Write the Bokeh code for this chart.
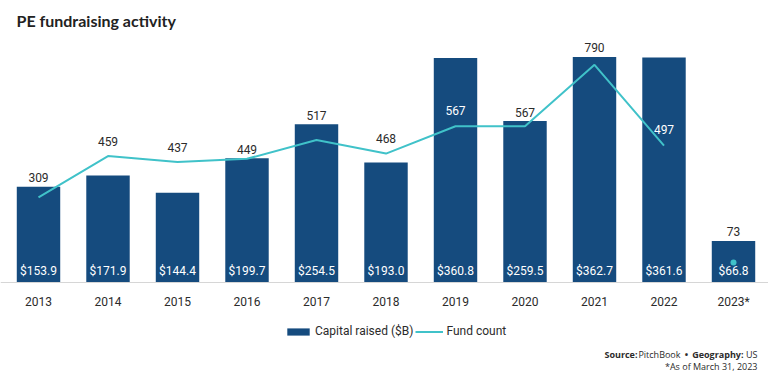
from bokeh.plotting import figure
from bokeh.models import (ColumnDataSource, Range1d, LinearAxis, FixedTicker, Label,
                          Legend, LegendItem)
from bokeh.core.properties import value
from bokeh.embed import file_html
from bokeh.resources import INLINE

years = [2013, 2014, 2015, 2016, 2017, 2018, 2019, 2020, 2021, 2022, 2023]
year_labels = ["2013", "2014", "2015", "2016", "2017", "2018", "2019", "2020", "2021", "2022", "2023*"]
capital = [153.9, 171.9, 144.4, 199.7, 254.5, 193.0, 360.8, 259.5, 362.7, 361.6, 66.8]
fund_count = [309, 459, 437, 449, 517, 468, 567, 567, 790, 497, 73]

BAR_COLOR = "#154b7e"
LINE_COLOR = "#40c2c9"
TEXT = "#2b2b2b"
FONT = "Roboto"

W, H = 768, 376
BASE = 282                      # pixel row of the zero line
PXU = 69.5                      # pixels per year
CAP_PX = 0.622                  # pixels per $B
CNT_PX = 0.2755                 # pixels per fund
x0 = years[0] - 38 / PXU
x1 = x0 + W / PXU

p = figure(width=W, height=H, output_backend="svg", toolbar_location=None,
           x_range=Range1d(x0, x1),
           y_range=Range1d(-(H - BASE) / CAP_PX, BASE / CAP_PX),
           min_border=0, x_axis_location=None, y_axis_location=None)
p.extra_y_ranges = {"cnt": Range1d(-(H - BASE) / CNT_PX, BASE / CNT_PX)}
p.grid.visible = False
p.outline_line_color = None
p.background_fill_color = "white"
p.border_fill_color = "white"

def X(px):
    return x0 + px / PXU

def Y(py):
    return (BASE - py) / CAP_PX

xaxis = LinearAxis(ticker=FixedTicker(ticks=years), fixed_location=0,
                   major_label_overrides={y: l for y, l in zip(years, year_labels)})
xaxis.axis_line_color = "#d6d6d6"
xaxis.major_tick_line_color = None
xaxis.minor_tick_line_color = None
xaxis.major_label_standoff = 6
xaxis.major_label_text_font = FONT
xaxis.major_label_text_font_size = "12px"
xaxis.major_label_text_color = TEXT
p.add_layout(xaxis, "below")

# count labels: white inside tall bars, otherwise above the higher of bar / line
lab_y, lab_off, lab_col = [], [], []
for c, n in zip(capital, fund_count):
    bar_top_cnt = c * CAP_PX / CNT_PX
    if (c * CAP_PX - n * CNT_PX) > 30:
        lab_y.append(n); lab_off.append(-16); lab_col.append("white")
    elif bar_top_cnt > n:
        lab_y.append(bar_top_cnt); lab_off.append(-9); lab_col.append(TEXT)
    else:
        lab_y.append(n); lab_off.append(-15); lab_col.append(TEXT)

src = ColumnDataSource(dict(
    x=years, cap=capital, cnt=fund_count,
    cap_lbl=[f"${v:.1f}" for v in capital],
    cnt_lbl=[str(v) for v in fund_count],
    lab_y=lab_y, lab_off=lab_off, lab_col=lab_col,
))
line_src = ColumnDataSource(dict(x=years[:-1], cnt=fund_count[:-1]))
dot_src = ColumnDataSource(dict(x=years[-1:], cnt=fund_count[-1:]))

bars = p.vbar(x="x", top="cap", width=0.625, bottom=0, source=src,
              fill_color=BAR_COLOR, line_color=None)
ln = p.line(x="x", y="cnt", source=line_src, line_color=LINE_COLOR, line_width=2,
            y_range_name="cnt")
p.scatter(x="x", y="cnt", source=dot_src, size=6, fill_color=LINE_COLOR,
          line_color=None, y_range_name="cnt")

p.text(x="x", y=0, text="cap_lbl", source=src, text_color="white",
       text_font=value(FONT), text_font_size="12px", text_align="center",
       text_baseline="middle", y_offset=-12)
p.text(x="x", y="lab_y", text="cnt_lbl", source=src, text_color="lab_col",
       text_font=value(FONT), text_font_size="12px", text_align="center",
       text_baseline="middle", y_offset="lab_off", y_range_name="cnt")

p.add_layout(Label(x=X(16), y=Y(20), text="PE fundraising activity",
                   text_font="Lato", text_font_style="bold",
                   text_font_size="16px", text_color="#222222",
                   text_baseline="middle"))

legend = Legend(items=[LegendItem(label="Capital raised ($B)", renderers=[bars]),
                       LegendItem(label="Fund count", renderers=[ln])],
                orientation="horizontal", location=(284, 38),
                glyph_width=28, glyph_height=9, label_height=14,
                label_text_font=FONT,
                label_text_font_size="12px", label_text_color=TEXT,
                label_standoff=3, spacing=2, padding=3, margin=0,
                border_line_color=None, background_fill_alpha=0)
p.add_layout(legend, "center")

small = "9px"
SF = "Open Sans"
# right-aligned chain (right edge in px)
src_parts = [("Source:", "bold", 637, "right"), ("PitchBook", "normal", 680, "right"),
             ("\u2022", "bold", 686, "center"), ("Geography:", "bold", 743, "right"),
             ("US", "normal", 757, "right")]
for txt, style, px, al in src_parts:
    p.add_layout(Label(x=X(px), y=Y(354), text=txt, text_font=SF,
                       text_font_style=style, text_font_size=small, text_color=TEXT,
                       text_align=al, text_baseline="middle"))
p.add_layout(Label(x=X(757), y=Y(366), text="*As of March 31, 2023", text_font=SF,
                   text_font_size=small, text_color=TEXT, text_align="right",
                   text_baseline="middle"))

open("out.html", "w").write(file_html(p, INLINE))
